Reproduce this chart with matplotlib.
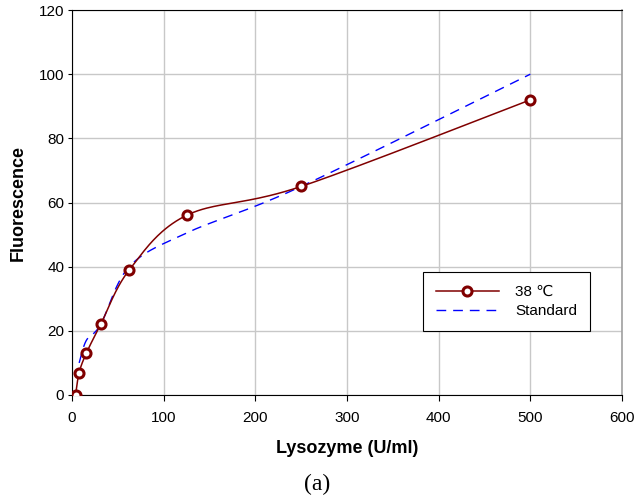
import numpy as np
import matplotlib
matplotlib.use("Agg")
import matplotlib.pyplot as plt

# lysozyme concentrations (U/ml) and fluorescence readings
conc_38 = [3.9, 7.8, 15.6, 31.25, 62.5, 125, 250, 500]
fluor_38 = [0, 7, 13, 22, 39, 56, 65, 92]

conc_std = [7.8, 15.6, 31.25, 62.5, 125, 250, 500]
fluor_std = [10, 17, 22, 40, 50.5, 65, 100]


def smooth(xs, ys, n=40):
    # Excel-style smoothed line: Bezier segments with Catmull-Rom control points
    p = np.column_stack([xs, ys]).astype(float)
    out = []
    for i in range(len(p) - 1):
        p0 = p[max(i - 1, 0)]
        p1 = p[i]
        p2 = p[i + 1]
        p3 = p[min(i + 2, len(p) - 1)]
        c1 = p1 + (p2 - p0) / 6
        c2 = p2 - (p3 - p1) / 6
        t = np.linspace(0, 1, n)[:, None]
        seg = ((1 - t) ** 3 * p1 + 3 * (1 - t) ** 2 * t * c1
               + 3 * (1 - t) * t ** 2 * c2 + t ** 3 * p2)
        out.append(seg if i == 0 else seg[1:])
    out = np.vstack(out)
    return out[:, 0], out[:, 1]


plt.rcParams['font.family'] = ['Liberation Sans', 'DejaVu Sans']

fig = plt.figure(figsize=(6.35, 5.01), dpi=100)
ax = fig.add_axes([0.1134, 0.2116, 0.8661, 0.7684])

red = "#800000"
sx, sy = smooth(conc_38, fluor_38)
ax.plot(sx, sy, color=red, lw=1.1, zorder=3)
ax.plot(conc_38, fluor_38, ls="none", marker="o", ms=6.5, mfc="white",
        mec=red, mew=2.2, zorder=4)

bx, by = smooth(conc_std, fluor_std)
ax.plot(bx, by, color="blue", lw=1.0, dashes=(7, 5), zorder=2)

# legend proxies
h1, = ax.plot([], [], color=red, lw=1.1, marker="o", ms=6.5, mfc="white",
              mec=red, mew=2.2)
h2, = ax.plot([], [], color="blue", lw=1.0, dashes=(7, 5))
leg = ax.legend([h1, h2], ["38 \u2103", "Standard"], loc="upper left",
                bbox_to_anchor=(0.638, 0.3195), fontsize=11, frameon=True,
                fancybox=False, edgecolor="black", framealpha=1,
                handlelength=4.1, borderpad=0.85, labelspacing=0.35,
                handletextpad=1.1, borderaxespad=0)
leg.get_frame().set_linewidth(0.8)

ax.set_xlim(0, 600)
ax.set_ylim(0, 120)
ax.set_xticks(range(0, 601, 100))
ax.set_yticks(range(0, 121, 20))
ax.grid(True, color="#c8c8c8", lw=1.0)
ax.set_axisbelow(True)
ax.tick_params(direction="out", width=0.8, labelsize=11, colors="black")
ax.tick_params(axis="x", length=4, pad=7.5)
ax.tick_params(axis="y", length=3, pad=2.5)

for s in ["left", "bottom", "top"]:
    ax.spines[s].set_color("black")
    ax.spines[s].set_linewidth(0.8)
ax.spines["right"].set_color("#a0a0a0")
ax.spines["right"].set_linewidth(1.2)

ax.set_xlabel("Lysozyme (U/ml)", fontsize=13, fontweight="bold", labelpad=11)
ax.set_ylabel("Fluorescence", fontsize=13, fontweight="bold", labelpad=9)

fig.text(0.5, 0.033, "(a)", fontsize=17, family="Liberation Serif",
         ha="center", va="center")

fig.savefig("out.png", dpi=100)
